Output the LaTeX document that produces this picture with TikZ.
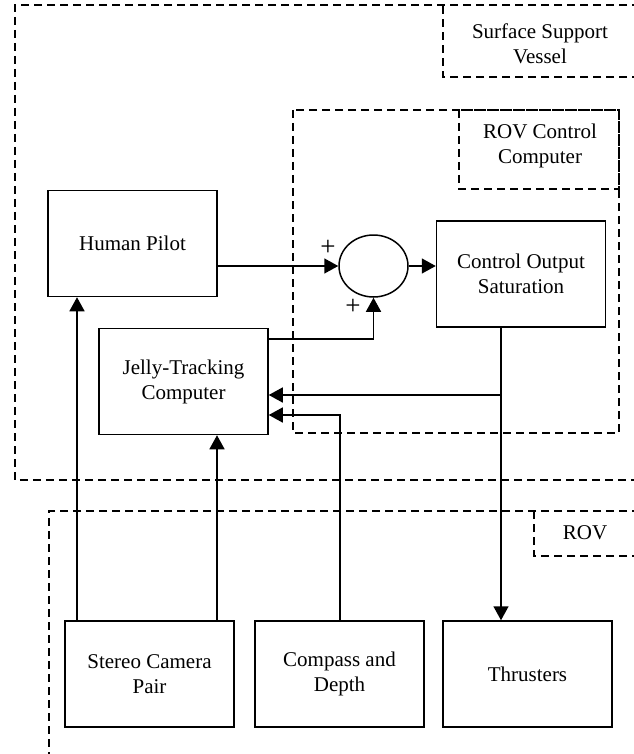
\documentclass[tikz,border=0pt]{standalone}
\usepackage{fontspec}
\setmainfont{Liberation Serif}
\usetikzlibrary{arrows.meta,shapes.geometric}

\tikzset{
  blockbox/.style={draw, line width=1.5pt, minimum width=169pt, minimum height=106pt,
    inner sep=0pt, align=center, font=\fontsize{21}{25}\selectfont},
  sumnode/.style={draw, ellipse, line width=1.5pt, minimum width=69pt, minimum height=62pt, inner sep=0pt},
  region/.style={draw, line width=1.5pt, dash pattern=on 8pt off 5pt},
  regionlabel/.style={align=center, font=\fontsize{21}{25}\selectfont},
  sign/.style={font=\fontsize{27}{30}\selectfont, inner sep=0pt},
  arr/.style={line width=1.5pt, -{Triangle[length=14pt,width=15pt]}}
}

\begin{document}
\begin{tikzpicture}[x=1pt,y=-1pt]
\useasboundingbox (0,0) rectangle (633,754);

% Surface support vessel boundary and its tag
\draw[region] (640,5) -- (15,5) -- (15,480) -- (640,480);
\draw[region] (640,77) -- (443,77) -- (443,5);
\node[regionlabel] (ssvlabel) at (540,44) {Surface Support\\Vessel};

% ROV control computer boundary and its tag
\draw[region] (293,110) rectangle (619,433);
\draw[region] (459,110) rectangle (619,189);
\node[regionlabel] (rcclabel) at (540,146) {ROV Control\\Computer};

% ROV boundary and its tag
\draw[region] (640,511) -- (49,511) -- (49,760);
\draw[region] (640,556) -- (534,556) -- (534,511);
\node[regionlabel] (rovlabel) at (585,533) {ROV};

% Blocks
\node[blockbox] (pilot) at (132.5,243.5) {Human Pilot};
\node[blockbox] (jelly) at (183.5,381.5) {Jelly-Tracking\\Computer};
\node[sumnode] (sum) at (373.5,266) {};
\node[blockbox] (sat) at (521,274) {Control Output\\Saturation};
\node[blockbox] (cam) at (149.5,674) {Stereo Camera\\Pair};
\node[blockbox] (comp) at (339.5,674) {Compass and\\Depth};
\node[blockbox] (thr) at (527.5,674) {Thrusters};

% Signs at the summing junction
\node[sign] (plusa) at (328,248) {+};
\node[sign] (plusb) at (353,307) {+};

% Tap points
\coordinate (camA) at (77,621);
\coordinate (camB) at (217,621);
\coordinate (satout) at (501,327);
\coordinate (fbrow) at (501,395);
\coordinate (comprow) at (340,415);
\coordinate (jellyout) at (268,339);

% Connectors
\draw[arr] (pilot.east |- sum.west) -- (sum.west);
\draw[arr] (sum.east) -- (sum.east -| sat.west);
\draw[arr] (jellyout) -| (sum.south);
\draw[arr] (satout) -- (satout |- thr.north);
\draw[arr] (fbrow) -- (fbrow -| jelly.east);
\draw[arr] (comprow |- comp.north) |- (comprow -| jelly.east);
\draw[arr] (camA) -- (camA |- pilot.south);
\draw[arr] (camB) -- (camB |- jelly.south);
\end{tikzpicture}
\end{document}
